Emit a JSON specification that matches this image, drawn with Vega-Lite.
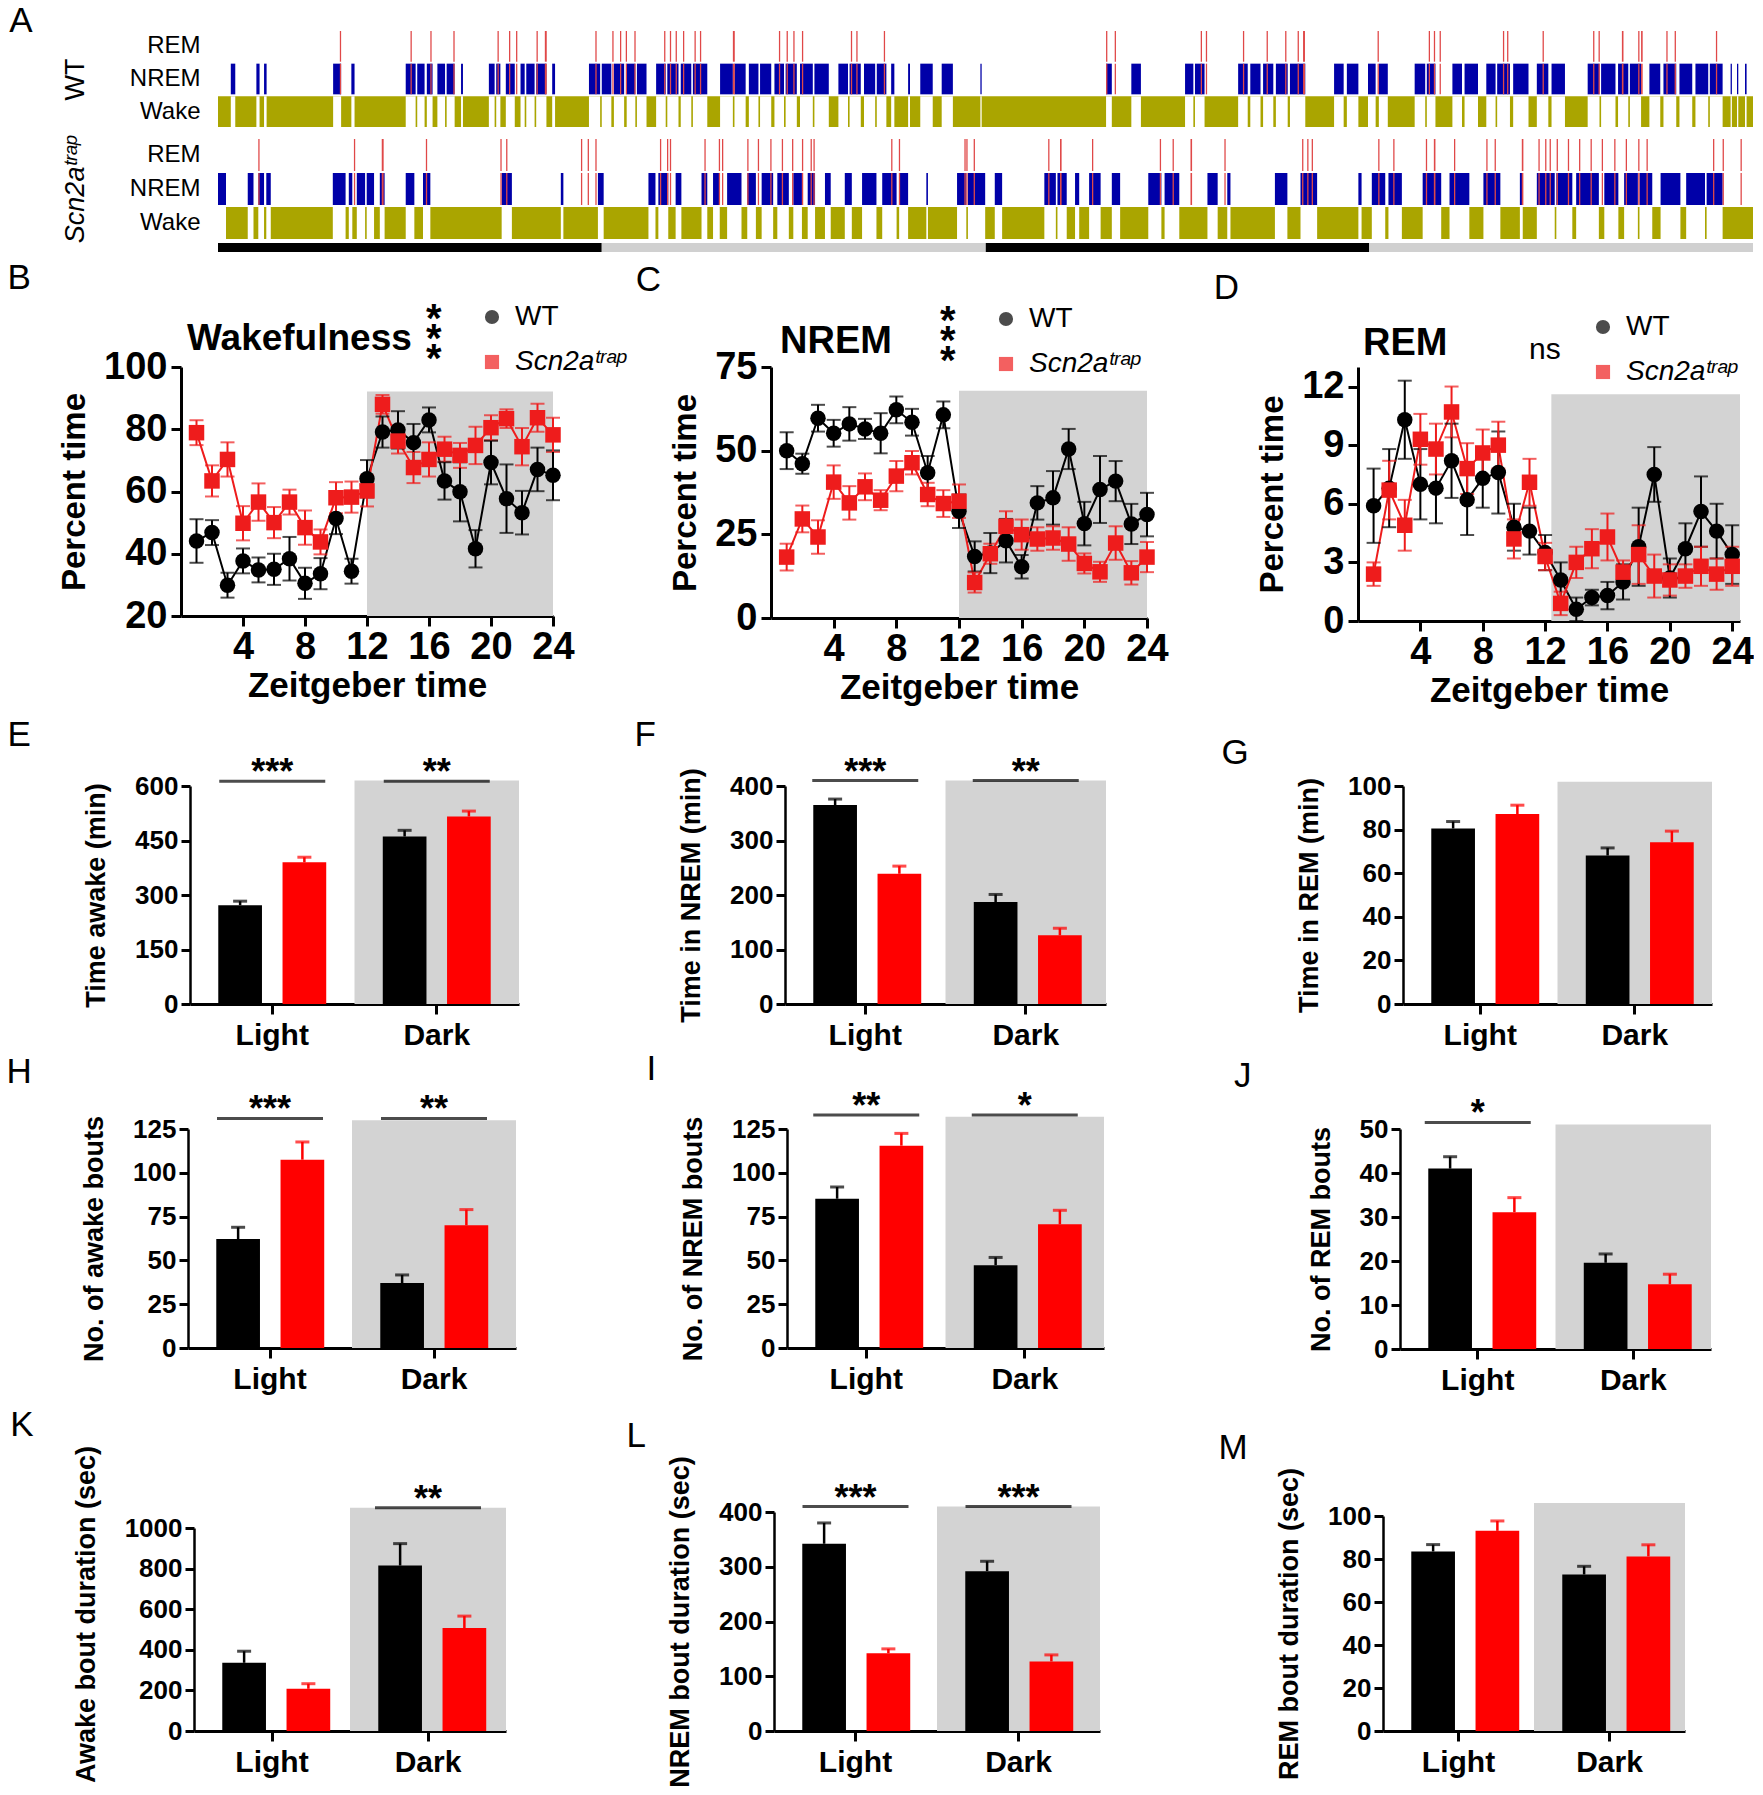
{
"$schema":"https://vega.github.io/schema/vega-lite/v6.json",
"background":"white",
"padding":{"left":6,"top":4,"right":0,"bottom":0},
"config":{
 "font":"Liberation Sans",
 "view":{"stroke":null},
 "axis":{"domainColor":"#000","domainWidth":3,"tickColor":"#000","tickWidth":3,"tickSize":9,"labelColor":"#000","labelFontWeight":"bold","titleColor":"#000","titleFontWeight":"bold","grid":false,"labelOverlap":false,"labelFlush":false},
 "title":{"color":"#000"},
 "legend":{"labelColor":"#000","titleColor":"#000"}
},
"datasets":{
 "record":[{"g":"WT","s":0,"e":48},{"g":"Scn2a","s":0,"e":48}],
 "ld":[{"s":0,"e":12,"ph":"Dark"},{"s":12,"e":24,"ph":"Light"},{"s":24,"e":36,"ph":"Dark"},{"s":36,"e":48,"ph":"Light"}],
 "nrem":[
{"g":"WT","s":0.4,"e":0.54},{"g":"WT","s":1.2,"e":1.3},{"g":"WT","s":1.44,"e":1.52},{"g":"WT","s":3.6,"e":3.85},{"g":"WT","s":4.17,"e":4.27},{"g":"WT","s":5.87,"e":6.18},{"g":"WT","s":6.23,"e":6.46},{"g":"WT","s":6.53,"e":6.71},{"g":"WT","s":6.86,"e":7.1},{"g":"WT","s":7.15,"e":7.4},{"g":"WT","s":7.6,"e":7.66},{"g":"WT","s":8.47,"e":8.65},{"g":"WT","s":8.7,"e":8.83},{"g":"WT","s":9.0,"e":9.28},{"g":"WT","s":9.46,"e":9.59},{"g":"WT","s":9.64,"e":9.9},{"g":"WT","s":9.95,"e":10.27},{"g":"WT","s":10.45,"e":10.54},{"g":"WT","s":11.6,"e":11.95},{"g":"WT","s":12.0,"e":12.3},{"g":"WT","s":12.38,"e":12.7},{"g":"WT","s":12.78,"e":13.05},{"g":"WT","s":13.1,"e":13.4},{"g":"WT","s":13.7,"e":14.0},{"g":"WT","s":14.05,"e":14.4},{"g":"WT","s":14.47,"e":14.8},{"g":"WT","s":14.85,"e":15.3},{"g":"WT","s":15.7,"e":16.1},{"g":"WT","s":16.15,"e":16.5},{"g":"WT","s":16.6,"e":16.9},{"g":"WT","s":16.95,"e":17.3},{"g":"WT","s":17.4,"e":17.7},{"g":"WT","s":17.75,"e":18.1},{"g":"WT","s":18.2,"e":18.6},{"g":"WT","s":18.65,"e":19.1},{"g":"WT","s":19.4,"e":19.7},{"g":"WT","s":19.75,"e":20.1},{"g":"WT","s":20.2,"e":20.55},{"g":"WT","s":20.6,"e":20.9},{"g":"WT","s":21.05,"e":21.15},{"g":"WT","s":21.58,"e":21.64},{"g":"WT","s":21.96,"e":22.35},{"g":"WT","s":22.63,"e":22.98},{"g":"WT","s":23.84,"e":23.88},{"g":"WT","s":27.77,"e":27.95},{"g":"WT","s":28.56,"e":28.86},{"g":"WT","s":30.24,"e":30.5},{"g":"WT","s":30.55,"e":30.85},{"g":"WT","s":31.9,"e":32.2},{"g":"WT","s":32.28,"e":32.6},{"g":"WT","s":32.68,"e":33.0},{"g":"WT","s":33.08,"e":33.45},{"g":"WT","s":33.52,"e":34.0},{"g":"WT","s":34.9,"e":35.2},{"g":"WT","s":35.3,"e":35.66},{"g":"WT","s":35.96,"e":36.2},{"g":"WT","s":36.3,"e":36.58},{"g":"WT","s":37.42,"e":37.75},{"g":"WT","s":37.8,"e":38.07},{"g":"WT","s":38.6,"e":38.9},{"g":"WT","s":38.98,"e":39.4},{"g":"WT","s":39.66,"e":39.95},{"g":"WT","s":40.0,"e":40.4},{"g":"WT","s":40.5,"e":40.98},{"g":"WT","s":41.24,"e":41.6},{"g":"WT","s":41.7,"e":42.12},{"g":"WT","s":42.83,"e":43.2},{"g":"WT","s":43.25,"e":43.7},{"g":"WT","s":43.78,"e":44.1},{"g":"WT","s":44.15,"e":44.5},{"g":"WT","s":44.76,"e":45.1},{"g":"WT","s":45.2,"e":45.6},{"g":"WT","s":45.7,"e":46.1},{"g":"WT","s":46.2,"e":46.6},{"g":"WT","s":46.65,"e":47.05},{"g":"WT","s":47.3,"e":47.34},{"g":"WT","s":47.5,"e":47.54},{"g":"WT","s":47.75,"e":47.8},
{"g":"Scn2a","s":0.0,"e":0.25},{"g":"Scn2a","s":0.93,"e":1.11},{"g":"Scn2a","s":1.26,"e":1.44},{"g":"Scn2a","s":1.51,"e":1.65},{"g":"Scn2a","s":3.59,"e":3.99},{"g":"Scn2a","s":4.09,"e":4.2},{"g":"Scn2a","s":4.34,"e":4.6},{"g":"Scn2a","s":4.65,"e":4.88},{"g":"Scn2a","s":5.06,"e":5.21},{"g":"Scn2a","s":5.87,"e":6.14},{"g":"Scn2a","s":6.41,"e":6.64},{"g":"Scn2a","s":8.87,"e":9.19},{"g":"Scn2a","s":10.72,"e":10.8},{"g":"Scn2a","s":11.88,"e":12.06},{"g":"Scn2a","s":13.46,"e":13.68},{"g":"Scn2a","s":13.77,"e":14.08},{"g":"Scn2a","s":14.31,"e":14.49},{"g":"Scn2a","s":15.12,"e":15.3},{"g":"Scn2a","s":15.48,"e":15.69},{"g":"Scn2a","s":15.92,"e":16.37},{"g":"Scn2a","s":16.55,"e":16.82},{"g":"Scn2a","s":17.0,"e":17.36},{"g":"Scn2a","s":17.49,"e":17.85},{"g":"Scn2a","s":17.99,"e":18.26},{"g":"Scn2a","s":18.44,"e":18.67},{"g":"Scn2a","s":18.98,"e":19.16},{"g":"Scn2a","s":19.6,"e":19.82},{"g":"Scn2a","s":20.14,"e":20.59},{"g":"Scn2a","s":20.77,"e":21.22},{"g":"Scn2a","s":21.3,"e":21.58},{"g":"Scn2a","s":22.15,"e":22.2},{"g":"Scn2a","s":23.11,"e":23.4},{"g":"Scn2a","s":23.45,"e":23.99},{"g":"Scn2a","s":24.29,"e":24.52},{"g":"Scn2a","s":25.84,"e":26.2},{"g":"Scn2a","s":26.25,"e":26.54},{"g":"Scn2a","s":26.8,"e":26.93},{"g":"Scn2a","s":27.24,"e":27.6},{"g":"Scn2a","s":27.95,"e":28.21},{"g":"Scn2a","s":29.09,"e":29.5},{"g":"Scn2a","s":29.6,"e":30.06},{"g":"Scn2a","s":30.94,"e":31.26},{"g":"Scn2a","s":31.56,"e":31.66},{"g":"Scn2a","s":33.05,"e":33.44},{"g":"Scn2a","s":33.85,"e":34.37},{"g":"Scn2a","s":35.66,"e":35.76},{"g":"Scn2a","s":36.08,"e":36.5},{"g":"Scn2a","s":36.6,"e":37.02},{"g":"Scn2a","s":37.67,"e":38.25},{"g":"Scn2a","s":38.51,"e":39.13},{"g":"Scn2a","s":39.57,"e":40.1},{"g":"Scn2a","s":40.71,"e":40.8},{"g":"Scn2a","s":41.24,"e":41.8},{"g":"Scn2a","s":41.85,"e":42.35},{"g":"Scn2a","s":42.47,"e":43.18},{"g":"Scn2a","s":43.35,"e":43.79},{"g":"Scn2a","s":43.97,"e":44.4},{"g":"Scn2a","s":44.45,"e":44.85},{"g":"Scn2a","s":45.11,"e":45.73},{"g":"Scn2a","s":45.91,"e":46.5},{"g":"Scn2a","s":46.55,"e":47.05}
 ],
 "rem":[
{"g":"WT","s":3.81,"e":3.85},{"g":"WT","s":6.02,"e":6.06},{"g":"WT","s":6.64,"e":6.68},{"g":"WT","s":7.36,"e":7.4},{"g":"WT","s":8.74,"e":8.78},{"g":"WT","s":9.1,"e":9.14},{"g":"WT","s":9.32,"e":9.36},{"g":"WT","s":9.96,"e":10.0},{"g":"WT","s":10.22,"e":10.28},{"g":"WT","s":11.8,"e":11.84},{"g":"WT","s":12.33,"e":12.37},{"g":"WT","s":12.57,"e":12.61},{"g":"WT","s":12.75,"e":12.79},{"g":"WT","s":13.02,"e":13.06},{"g":"WT","s":13.95,"e":13.99},{"g":"WT","s":14.13,"e":14.17},{"g":"WT","s":14.31,"e":14.35},{"g":"WT","s":14.54,"e":14.58},{"g":"WT","s":14.9,"e":14.94},{"g":"WT","s":15.07,"e":15.11},{"g":"WT","s":16.1,"e":16.16},{"g":"WT","s":17.54,"e":17.58},{"g":"WT","s":17.78,"e":17.82},{"g":"WT","s":17.99,"e":18.03},{"g":"WT","s":18.26,"e":18.3},{"g":"WT","s":19.79,"e":19.83},{"g":"WT","s":19.96,"e":20.0},{"g":"WT","s":20.82,"e":20.86},{"g":"WT","s":27.77,"e":27.81},{"g":"WT","s":28.04,"e":28.08},{"g":"WT","s":30.73,"e":30.77},{"g":"WT","s":30.89,"e":30.93},{"g":"WT","s":32.05,"e":32.09},{"g":"WT","s":32.79,"e":32.83},{"g":"WT","s":33.37,"e":33.41},{"g":"WT","s":33.76,"e":33.8},{"g":"WT","s":33.93,"e":33.99},{"g":"WT","s":36.26,"e":36.3},{"g":"WT","s":37.86,"e":37.9},{"g":"WT","s":38.02,"e":38.06},{"g":"WT","s":38.2,"e":38.24},{"g":"WT","s":40.18,"e":40.22},{"g":"WT","s":40.31,"e":40.35},{"g":"WT","s":41.42,"e":41.46},{"g":"WT","s":43.0,"e":43.04},{"g":"WT","s":43.17,"e":43.21},{"g":"WT","s":43.9,"e":43.95},{"g":"WT","s":44.41,"e":44.45},{"g":"WT","s":44.5,"e":44.55},{"g":"WT","s":45.29,"e":45.33},{"g":"WT","s":45.55,"e":45.59},{"g":"WT","s":46.84,"e":46.88},
{"g":"Scn2a","s":1.26,"e":1.3},{"g":"Scn2a","s":4.25,"e":4.29},{"g":"Scn2a","s":5.12,"e":5.18},{"g":"Scn2a","s":6.5,"e":6.54},{"g":"Scn2a","s":8.83,"e":8.87},{"g":"Scn2a","s":9.01,"e":9.05},{"g":"Scn2a","s":11.35,"e":11.39},{"g":"Scn2a","s":11.56,"e":11.6},{"g":"Scn2a","s":11.8,"e":11.84},{"g":"Scn2a","s":13.82,"e":13.86},{"g":"Scn2a","s":14.04,"e":14.08},{"g":"Scn2a","s":14.13,"e":14.17},{"g":"Scn2a","s":15.21,"e":15.25},{"g":"Scn2a","s":15.66,"e":15.7},{"g":"Scn2a","s":15.76,"e":15.8},{"g":"Scn2a","s":16.55,"e":16.59},{"g":"Scn2a","s":16.88,"e":16.92},{"g":"Scn2a","s":17.27,"e":17.31},{"g":"Scn2a","s":17.63,"e":17.67},{"g":"Scn2a","s":17.95,"e":17.99},{"g":"Scn2a","s":18.26,"e":18.3},{"g":"Scn2a","s":18.53,"e":18.57},{"g":"Scn2a","s":18.62,"e":18.66},{"g":"Scn2a","s":21.05,"e":21.09},{"g":"Scn2a","s":21.29,"e":21.33},{"g":"Scn2a","s":23.34,"e":23.38},{"g":"Scn2a","s":23.4,"e":23.44},{"g":"Scn2a","s":23.63,"e":23.67},{"g":"Scn2a","s":25.96,"e":26.0},{"g":"Scn2a","s":26.33,"e":26.38},{"g":"Scn2a","s":27.33,"e":27.37},{"g":"Scn2a","s":29.45,"e":29.49},{"g":"Scn2a","s":29.85,"e":29.89},{"g":"Scn2a","s":30.41,"e":30.46},{"g":"Scn2a","s":31.47,"e":31.51},{"g":"Scn2a","s":33.9,"e":33.94},{"g":"Scn2a","s":34.06,"e":34.1},{"g":"Scn2a","s":34.2,"e":34.24},{"g":"Scn2a","s":36.28,"e":36.32},{"g":"Scn2a","s":36.75,"e":36.79},{"g":"Scn2a","s":37.77,"e":37.81},{"g":"Scn2a","s":38.02,"e":38.07},{"g":"Scn2a","s":38.65,"e":38.69},{"g":"Scn2a","s":39.66,"e":39.7},{"g":"Scn2a","s":39.92,"e":39.96},{"g":"Scn2a","s":40.77,"e":40.82},{"g":"Scn2a","s":41.29,"e":41.33},{"g":"Scn2a","s":41.5,"e":41.54},{"g":"Scn2a","s":41.64,"e":41.68},{"g":"Scn2a","s":41.86,"e":41.9},{"g":"Scn2a","s":42.21,"e":42.25},{"g":"Scn2a","s":42.56,"e":42.6},{"g":"Scn2a","s":42.92,"e":42.96},{"g":"Scn2a","s":43.27,"e":43.31},{"g":"Scn2a","s":43.66,"e":43.7},{"g":"Scn2a","s":44.02,"e":44.06},{"g":"Scn2a","s":44.41,"e":44.45},{"g":"Scn2a","s":44.67,"e":44.71},{"g":"Scn2a","s":46.75,"e":46.79},{"g":"Scn2a","s":47.05,"e":47.09},{"g":"Scn2a","s":47.61,"e":47.65}
 ],
 "shadeLine":[{"p":"B","x0":12,"x1":24,"y0":20,"y1":92.1},{"p":"C","x0":12,"x1":24,"y0":0,"y1":67.9},{"p":"D","x0":12.4,"x1":24.5,"y0":0,"y1":11.6}],
 "lines":[
{"p":"B","g":"WT","t":1,"m":44.1,"s":7},{"p":"B","g":"WT","t":2,"m":46.8,"s":4},{"p":"B","g":"WT","t":3,"m":29.9,"s":4},{"p":"B","g":"WT","t":4,"m":37.7,"s":4},{"p":"B","g":"WT","t":5,"m":34.8,"s":4},{"p":"B","g":"WT","t":6,"m":35.0,"s":5},{"p":"B","g":"WT","t":7,"m":38.4,"s":7},{"p":"B","g":"WT","t":8,"m":30.5,"s":5},{"p":"B","g":"WT","t":9,"m":33.6,"s":5},{"p":"B","g":"WT","t":10,"m":51.3,"s":5},{"p":"B","g":"WT","t":11,"m":34.4,"s":4},{"p":"B","g":"WT","t":12,"m":64.1,"s":6},{"p":"B","g":"WT","t":13,"m":79.1,"s":5},{"p":"B","g":"WT","t":14,"m":79.8,"s":6},{"p":"B","g":"WT","t":15,"m":75.7,"s":6},{"p":"B","g":"WT","t":16,"m":83.0,"s":4},{"p":"B","g":"WT","t":17,"m":63.4,"s":6},{"p":"B","g":"WT","t":18,"m":59.9,"s":9.5},{"p":"B","g":"WT","t":19,"m":41.6,"s":6},{"p":"B","g":"WT","t":20,"m":69.3,"s":7},{"p":"B","g":"WT","t":21,"m":57.7,"s":11},{"p":"B","g":"WT","t":22,"m":53.2,"s":7},{"p":"B","g":"WT","t":23,"m":67.1,"s":7},{"p":"B","g":"WT","t":24,"m":65.2,"s":8},
{"p":"B","g":"Scn2a","t":1,"m":78.9,"s":4},{"p":"B","g":"Scn2a","t":2,"m":63.4,"s":5},{"p":"B","g":"Scn2a","t":3,"m":70.3,"s":5.5},{"p":"B","g":"Scn2a","t":4,"m":49.8,"s":5.5},{"p":"B","g":"Scn2a","t":5,"m":56.6,"s":6},{"p":"B","g":"Scn2a","t":6,"m":50.0,"s":5},{"p":"B","g":"Scn2a","t":7,"m":56.6,"s":4},{"p":"B","g":"Scn2a","t":8,"m":48.4,"s":5.5},{"p":"B","g":"Scn2a","t":9,"m":43.8,"s":4},{"p":"B","g":"Scn2a","t":10,"m":58.0,"s":5},{"p":"B","g":"Scn2a","t":11,"m":58.2,"s":5},{"p":"B","g":"Scn2a","t":12,"m":60.2,"s":5},{"p":"B","g":"Scn2a","t":13,"m":88.0,"s":3},{"p":"B","g":"Scn2a","t":14,"m":76.2,"s":4},{"p":"B","g":"Scn2a","t":15,"m":67.7,"s":5},{"p":"B","g":"Scn2a","t":16,"m":70.3,"s":5.5},{"p":"B","g":"Scn2a","t":17,"m":73.6,"s":4},{"p":"B","g":"Scn2a","t":18,"m":71.6,"s":4},{"p":"B","g":"Scn2a","t":19,"m":74.8,"s":6},{"p":"B","g":"Scn2a","t":20,"m":80.5,"s":4},{"p":"B","g":"Scn2a","t":21,"m":83.4,"s":3},{"p":"B","g":"Scn2a","t":22,"m":74.4,"s":6},{"p":"B","g":"Scn2a","t":23,"m":83.7,"s":4.5},{"p":"B","g":"Scn2a","t":24,"m":78.2,"s":5.5},
{"p":"C","g":"WT","t":1,"m":50.0,"s":5.5},{"p":"C","g":"WT","t":2,"m":46.1,"s":3},{"p":"C","g":"WT","t":3,"m":59.7,"s":4},{"p":"C","g":"WT","t":4,"m":55.2,"s":4},{"p":"C","g":"WT","t":5,"m":58.0,"s":5},{"p":"C","g":"WT","t":6,"m":56.5,"s":3},{"p":"C","g":"WT","t":7,"m":55.2,"s":6},{"p":"C","g":"WT","t":8,"m":62.2,"s":4},{"p":"C","g":"WT","t":9,"m":58.5,"s":4},{"p":"C","g":"WT","t":10,"m":43.4,"s":5},{"p":"C","g":"WT","t":11,"m":60.7,"s":4},{"p":"C","g":"WT","t":12,"m":31.9,"s":5},{"p":"C","g":"WT","t":13,"m":18.4,"s":4.5},{"p":"C","g":"WT","t":14,"m":19.4,"s":6},{"p":"C","g":"WT","t":15,"m":23.1,"s":6.5},{"p":"C","g":"WT","t":16,"m":15.3,"s":3.5},{"p":"C","g":"WT","t":17,"m":34.4,"s":5},{"p":"C","g":"WT","t":18,"m":35.9,"s":8},{"p":"C","g":"WT","t":19,"m":50.5,"s":6},{"p":"C","g":"WT","t":20,"m":28.2,"s":6.5},{"p":"C","g":"WT","t":21,"m":38.4,"s":10},{"p":"C","g":"WT","t":22,"m":40.9,"s":6},{"p":"C","g":"WT","t":23,"m":28.1,"s":6},{"p":"C","g":"WT","t":24,"m":30.9,"s":6.5},
{"p":"C","g":"Scn2a","t":1,"m":18.2,"s":4},{"p":"C","g":"Scn2a","t":2,"m":29.6,"s":4},{"p":"C","g":"Scn2a","t":3,"m":24.2,"s":5},{"p":"C","g":"Scn2a","t":4,"m":40.6,"s":5},{"p":"C","g":"Scn2a","t":5,"m":34.4,"s":5},{"p":"C","g":"Scn2a","t":6,"m":39.2,"s":4},{"p":"C","g":"Scn2a","t":7,"m":35.2,"s":3},{"p":"C","g":"Scn2a","t":8,"m":42.4,"s":4.5},{"p":"C","g":"Scn2a","t":9,"m":46.4,"s":3.5},{"p":"C","g":"Scn2a","t":10,"m":36.9,"s":3.5},{"p":"C","g":"Scn2a","t":11,"m":34.2,"s":4},{"p":"C","g":"Scn2a","t":12,"m":34.9,"s":5},{"p":"C","g":"Scn2a","t":13,"m":10.6,"s":3},{"p":"C","g":"Scn2a","t":14,"m":19.2,"s":3},{"p":"C","g":"Scn2a","t":15,"m":27.4,"s":4.5},{"p":"C","g":"Scn2a","t":16,"m":24.9,"s":4.5},{"p":"C","g":"Scn2a","t":17,"m":23.6,"s":3.5},{"p":"C","g":"Scn2a","t":18,"m":23.9,"s":3.5},{"p":"C","g":"Scn2a","t":19,"m":22.1,"s":5},{"p":"C","g":"Scn2a","t":20,"m":16.3,"s":3},{"p":"C","g":"Scn2a","t":21,"m":13.8,"s":3},{"p":"C","g":"Scn2a","t":22,"m":22.4,"s":5},{"p":"C","g":"Scn2a","t":23,"m":13.5,"s":3.5},{"p":"C","g":"Scn2a","t":24,"m":18.2,"s":4.5},
{"p":"D","g":"WT","t":1,"m":5.9,"s":1.9},{"p":"D","g":"WT","t":2,"m":6.8,"s":2.0},{"p":"D","g":"WT","t":3,"m":10.3,"s":2.0},{"p":"D","g":"WT","t":4,"m":7.0,"s":1.8},{"p":"D","g":"WT","t":5,"m":6.8,"s":1.8},{"p":"D","g":"WT","t":6,"m":8.2,"s":1.9},{"p":"D","g":"WT","t":7,"m":6.2,"s":1.8},{"p":"D","g":"WT","t":8,"m":7.3,"s":1.5},{"p":"D","g":"WT","t":9,"m":7.6,"s":2.1},{"p":"D","g":"WT","t":10,"m":4.8,"s":1.2},{"p":"D","g":"WT","t":11,"m":4.6,"s":1.2},{"p":"D","g":"WT","t":12,"m":3.5,"s":0.9},{"p":"D","g":"WT","t":13,"m":2.1,"s":0.9},{"p":"D","g":"WT","t":14,"m":0.6,"s":0.6},{"p":"D","g":"WT","t":15,"m":1.2,"s":0.4},{"p":"D","g":"WT","t":16,"m":1.3,"s":0.7},{"p":"D","g":"WT","t":17,"m":2.0,"s":0.9},{"p":"D","g":"WT","t":18,"m":3.8,"s":2.0},{"p":"D","g":"WT","t":19,"m":7.5,"s":1.4},{"p":"D","g":"WT","t":20,"m":2.2,"s":1.0},{"p":"D","g":"WT","t":21,"m":3.7,"s":1.3},{"p":"D","g":"WT","t":22,"m":5.6,"s":1.8},{"p":"D","g":"WT","t":23,"m":4.6,"s":1.4},{"p":"D","g":"WT","t":24,"m":3.4,"s":1.5},
{"p":"D","g":"Scn2a","t":1,"m":2.4,"s":0.6},{"p":"D","g":"Scn2a","t":2,"m":6.7,"s":1.5},{"p":"D","g":"Scn2a","t":3,"m":4.9,"s":1.3},{"p":"D","g":"Scn2a","t":4,"m":9.3,"s":1.3},{"p":"D","g":"Scn2a","t":5,"m":8.8,"s":1.3},{"p":"D","g":"Scn2a","t":6,"m":10.7,"s":1.3},{"p":"D","g":"Scn2a","t":7,"m":7.8,"s":1.3},{"p":"D","g":"Scn2a","t":8,"m":8.6,"s":1.2},{"p":"D","g":"Scn2a","t":9,"m":9.0,"s":1.2},{"p":"D","g":"Scn2a","t":10,"m":4.2,"s":1.0},{"p":"D","g":"Scn2a","t":11,"m":7.1,"s":1.2},{"p":"D","g":"Scn2a","t":12,"m":3.3,"s":0.7},{"p":"D","g":"Scn2a","t":13,"m":0.9,"s":0.6},{"p":"D","g":"Scn2a","t":14,"m":3.0,"s":0.8},{"p":"D","g":"Scn2a","t":15,"m":3.7,"s":1.0},{"p":"D","g":"Scn2a","t":16,"m":4.3,"s":1.2},{"p":"D","g":"Scn2a","t":17,"m":2.5,"s":0.6},{"p":"D","g":"Scn2a","t":18,"m":3.4,"s":1.5},{"p":"D","g":"Scn2a","t":19,"m":2.3,"s":1.1},{"p":"D","g":"Scn2a","t":20,"m":2.1,"s":0.8},{"p":"D","g":"Scn2a","t":21,"m":2.3,"s":0.6},{"p":"D","g":"Scn2a","t":22,"m":2.8,"s":1.0},{"p":"D","g":"Scn2a","t":23,"m":2.4,"s":0.8},{"p":"D","g":"Scn2a","t":24,"m":2.8,"s":1.0}
 ],
 "bars":[
{"p":"E","per":"Light","g":"WT","m":272,"u":283},{"p":"E","per":"Light","g":"Scn2a","m":390,"u":404},{"p":"E","per":"Dark","g":"WT","m":461,"u":478},{"p":"E","per":"Dark","g":"Scn2a","m":516,"u":531},
{"p":"F","per":"Light","g":"WT","m":365,"u":376},{"p":"F","per":"Light","g":"Scn2a","m":239,"u":253},{"p":"F","per":"Dark","g":"WT","m":187,"u":201},{"p":"F","per":"Dark","g":"Scn2a","m":126,"u":139},
{"p":"G","per":"Light","g":"WT","m":80.5,"u":83.7},{"p":"G","per":"Light","g":"Scn2a","m":87.1,"u":91.2},{"p":"G","per":"Dark","g":"WT","m":68.1,"u":71.6},{"p":"G","per":"Dark","g":"Scn2a","m":74.2,"u":79.3},
{"p":"H","per":"Light","g":"WT","m":62.2,"u":68.9},{"p":"H","per":"Light","g":"Scn2a","m":107.5,"u":117.6},{"p":"H","per":"Dark","g":"WT","m":37.1,"u":41.7},{"p":"H","per":"Dark","g":"Scn2a","m":70.0,"u":79.0},
{"p":"I","per":"Light","g":"WT","m":85.2,"u":91.9},{"p":"I","per":"Light","g":"Scn2a","m":115.5,"u":122.5},{"p":"I","per":"Dark","g":"WT","m":47.3,"u":51.7},{"p":"I","per":"Dark","g":"Scn2a","m":70.6,"u":78.6},
{"p":"J","per":"Light","g":"WT","m":41.0,"u":43.7},{"p":"J","per":"Light","g":"Scn2a","m":31.1,"u":34.4},{"p":"J","per":"Dark","g":"WT","m":19.6,"u":21.6},{"p":"J","per":"Dark","g":"Scn2a","m":14.7,"u":17.0},
{"p":"K","per":"Light","g":"WT","m":336,"u":393},{"p":"K","per":"Light","g":"Scn2a","m":208,"u":233},{"p":"K","per":"Dark","g":"WT","m":815,"u":923},{"p":"K","per":"Dark","g":"Scn2a","m":507,"u":566},
{"p":"L","per":"Light","g":"WT","m":342,"u":380},{"p":"L","per":"Light","g":"Scn2a","m":142,"u":150},{"p":"L","per":"Dark","g":"WT","m":292,"u":310},{"p":"L","per":"Dark","g":"Scn2a","m":127,"u":139},
{"p":"M","per":"Light","g":"WT","m":83.5,"u":86.7},{"p":"M","per":"Light","g":"Scn2a","m":93.1,"u":97.7},{"p":"M","per":"Dark","g":"WT","m":72.8,"u":76.6},{"p":"M","per":"Dark","g":"Scn2a","m":81.2,"u":86.6}
 ],
 "shadeBar":[{"p":"E","per":"Dark","top":615},{"p":"F","per":"Dark","top":410},{"p":"G","per":"Dark","top":102},{"p":"H","per":"Dark","top":130},{"p":"I","per":"Dark","top":132},{"p":"J","per":"Dark","top":51},{"p":"K","per":"Dark","top":1100},{"p":"L","per":"Dark","top":410},{"p":"M","per":"Dark","top":106}],
 "sig":[{"p":"E","per":"Light","lv":613,"st":"***"},{"p":"E","per":"Dark","lv":613,"st":"**"},{"p":"F","per":"Light","lv":410,"st":"***"},{"p":"F","per":"Dark","lv":410,"st":"**"},{"p":"H","per":"Light","lv":131,"st":"***"},{"p":"H","per":"Dark","lv":131,"st":"**"},{"p":"I","per":"Light","lv":133,"st":"**"},{"p":"I","per":"Dark","lv":133,"st":"*"},{"p":"J","per":"Light","lv":51.5,"st":"*"},{"p":"K","per":"Dark","lv":1100,"st":"**"},{"p":"L","per":"Light","lv":410,"st":"***"},{"p":"L","per":"Dark","lv":410,"st":"***"}]
},
"resolve":{"scale":{"color":"independent","shape":"independent"}},
"columns":1,
"spacing":1,
"concat":[
 {"columns":1,"spacing":9,
  "resolve":{"scale":{"color":"independent","shape":"independent"}},
  "concat":[
 {"title":{"text":"A","anchor":"start","frame":"bounds","fontSize":35,"fontWeight":"normal","dx":-52,"offset":-8},
  "resolve":{"scale":{"color":"independent","shape":"independent"}},
  "spacing":8,
  "vconcat":[
   {"width":1572,"height":96,
    "layer":[
     {"data":{"name":"record"},"transform":[{"filter":"datum.g=='WT'"}],"mark":{"type":"bar","color":"#aaa500"},
      "encoding":{"x":{"field":"s","type":"quantitative","scale":{"domain":[0,48],"nice":false,"zero":false,"range":[37,1572]},"axis":null},"x2":{"field":"e"},
       "y":{"datum":"Wake","type":"nominal","scale":{"domain":["REM","NREM","Wake"],"paddingInner":0.06,"paddingOuter":0},"axis":{"title":"WT","offset":-37,"titleFontSize":27,"titleFontWeight":"normal","titlePadding":40,"labelFontSize":24,"labelFontWeight":"normal","labelPadding":18,"domain":false,"ticks":false}}}},
     {"data":{"name":"nrem"},"transform":[{"filter":"datum.g=='WT'"}],"mark":{"type":"bar","color":"#ffffff"},"encoding":{"x":{"field":"s","type":"quantitative"},"x2":{"field":"e"},"y":{"datum":"Wake","type":"nominal"}}},
     {"data":{"name":"nrem"},"transform":[{"filter":"datum.g=='WT'"}],"mark":{"type":"bar","color":"#0000a8"},"encoding":{"x":{"field":"s","type":"quantitative"},"x2":{"field":"e"},"y":{"datum":"NREM","type":"nominal"}}},
     {"data":{"name":"rem"},"transform":[{"filter":"datum.g=='WT'"}],"mark":{"type":"bar","color":"#e04848"},"encoding":{"x":{"field":"s","type":"quantitative"},"x2":{"field":"e"},"y":{"datum":"REM","type":"nominal"}}},
     {"data":{"name":"rem"},"transform":[{"filter":"datum.g=='WT'"}],"mark":{"type":"bar","color":"#e04848"},"encoding":{"x":{"field":"s","type":"quantitative"},"x2":{"field":"e"},"y":{"datum":"NREM","type":"nominal"}}}
    ]},
   {"spacing":0,
    "resolve":{"scale":{"color":"independent","shape":"independent"}},
    "vconcat":[
     {"width":1572,"height":100,
      "layer":[
       {"data":{"name":"record"},"transform":[{"filter":"datum.g=='Scn2a'"}],"mark":{"type":"bar","color":"#aaa500"},
        "encoding":{"x":{"field":"s","type":"quantitative","scale":{"domain":[0,48],"nice":false,"zero":false,"range":[37,1572]},"axis":null},"x2":{"field":"e"},
         "y":{"datum":"Wake","type":"nominal","scale":{"domain":["REM","NREM","Wake"],"paddingInner":0.06,"paddingOuter":0},"axis":{"title":"Scn2aᵗʳᵃᵖ","offset":-37,"titleFontSize":27,"titleFontWeight":"normal","titleFontStyle":"italic","titlePadding":40,"labelFontSize":24,"labelFontWeight":"normal","labelPadding":18,"domain":false,"ticks":false}}}},
       {"data":{"name":"nrem"},"transform":[{"filter":"datum.g=='Scn2a'"}],"mark":{"type":"bar","color":"#ffffff"},"encoding":{"x":{"field":"s","type":"quantitative"},"x2":{"field":"e"},"y":{"datum":"Wake","type":"nominal"}}},
       {"data":{"name":"nrem"},"transform":[{"filter":"datum.g=='Scn2a'"}],"mark":{"type":"bar","color":"#0000a8"},"encoding":{"x":{"field":"s","type":"quantitative"},"x2":{"field":"e"},"y":{"datum":"NREM","type":"nominal"}}},
       {"data":{"name":"rem"},"transform":[{"filter":"datum.g=='Scn2a'"}],"mark":{"type":"bar","color":"#e04848"},"encoding":{"x":{"field":"s","type":"quantitative"},"x2":{"field":"e"},"y":{"datum":"REM","type":"nominal"}}},
       {"data":{"name":"rem"},"transform":[{"filter":"datum.g=='Scn2a'"}],"mark":{"type":"bar","color":"#e04848"},"encoding":{"x":{"field":"s","type":"quantitative"},"x2":{"field":"e"},"y":{"datum":"NREM","type":"nominal"}}}
      ]},
     {"width":1572,"height":9,"data":{"name":"ld"},
      "layer":[
       {"transform":[{"filter":"datum.ph=='Dark'"}],"mark":{"type":"bar","color":"#000000"},
        "encoding":{"x":{"field":"s","type":"quantitative","scale":{"domain":[0,48],"nice":false,"zero":false,"range":[37,1572]},"axis":null},"x2":{"field":"e"},"y":{"datum":"LD","type":"nominal","axis":null,"scale":{"paddingInner":0,"paddingOuter":0}}}},
       {"transform":[{"filter":"datum.ph=='Light'"}],"mark":{"type":"bar","color":"#d0d0d0"},
        "encoding":{"x":{"field":"s","type":"quantitative"},"x2":{"field":"e"},"y":{"datum":"LD","type":"nominal"}}}
      ]}
    ]}
  ]},
 {"resolve":{"scale":{"color":"independent","shape":"independent"}},
  "spacing":44,
  "hconcat":[
   {"resolve":{"scale":{"color":"independent","shape":"independent"}},
    "spacing":8,
    "hconcat":[
     {"title":{"text":"B","anchor":"start","frame":"bounds","fontSize":35,"fontWeight":"normal","dx":-51,"offset":7},
      "vconcat":[{
       "width":372,"height":249,
       "title":{"text":"Wakefulness","anchor":"start","frame":"group","fontSize":37,"fontWeight":"bold","dx":6,"offset":-10},
       "layer":[
        {"data":{"name":"shadeLine"},"transform":[{"filter":"datum.p=='B'"}],"mark":{"type":"rect","color":"#d3d3d3"},
         "encoding":{"x":{"field":"x0","type":"quantitative","title":"Zeitgeber time","scale":{"domain":[0,24],"nice":false,"zero":false},"axis":{"values":[4,8,12,16,20,24],"labelFontSize":38,"titleFontSize":35,"labelPadding":2,"titlePadding":2,"tickSize":10}},"x2":{"field":"x1"},
          "y":{"field":"y0","type":"quantitative","title":"Percent time","scale":{"domain":[20,100],"nice":false,"zero":false},"axis":{"values":[20,40,60,80,100],"labelFontSize":38,"titleFontSize":33,"labelPadding":4,"titlePadding":12,"tickSize":10}},"y2":{"field":"y1"}}},
        {"data":{"name":"lines"},"transform":[{"filter":"datum.p=='B'"}],"mark":{"type":"line","strokeWidth":2},
         "encoding":{"x":{"field":"t","type":"quantitative","title":"Zeitgeber time"},"y":{"field":"m","type":"quantitative","title":"Percent time"},"color":{"field":"g","type":"nominal","scale":{"domain":["WT","Scn2a"],"range":["#000000","#ee1c1c"]},"legend":{"orient":"none","legendX":245,"legendY":-64,"title":["*","*","*"],"titleLineHeight":20,"titleOrient":"left","titleAnchor":"middle","titleFontSize":40,"titleFontWeight":"bold","titlePadding":36,"labelFontSize":28,"labelFontWeight":"normal","symbolSize":200,"symbolStrokeWidth":0,"rowPadding":17,"labelOffset":9,"labelExpr":"datum.value == 'WT' ? 'WT' : 'Scn2aᵗʳᵃᵖ'","labelFontStyle":{"expr":"datum.value == 'WT' ? 'normal' : 'italic'"}}}}},
        {"data":{"name":"lines"},"transform":[{"filter":"datum.p=='B'"}],"mark":{"type":"errorbar","ticks":{"size":14},"thickness":2},
         "encoding":{"x":{"field":"t","type":"quantitative","title":"Zeitgeber time"},"y":{"field":"m","type":"quantitative","title":"Percent time"},"yError":{"field":"s"},"color":{"field":"g","type":"nominal","legend":{"orient":"none","legendX":245,"legendY":-64,"title":["*","*","*"],"titleLineHeight":20,"titleOrient":"left","titleAnchor":"middle","titleFontSize":40,"titleFontWeight":"bold","titlePadding":36,"labelFontSize":28,"labelFontWeight":"normal","symbolSize":200,"symbolStrokeWidth":0,"rowPadding":17,"labelOffset":9,"labelExpr":"datum.value == 'WT' ? 'WT' : 'Scn2aᵗʳᵃᵖ'","labelFontStyle":{"expr":"datum.value == 'WT' ? 'normal' : 'italic'"}}}}},
        {"data":{"name":"lines"},"transform":[{"filter":"datum.p=='B'"}],"mark":{"type":"point","filled":true,"size":240,"opacity":1},
         "encoding":{"x":{"field":"t","type":"quantitative","title":"Zeitgeber time"},"y":{"field":"m","type":"quantitative","title":"Percent time"},
          "color":{"field":"g","type":"nominal","legend":{"orient":"none","legendX":245,"legendY":-64,"title":["*","*","*"],"titleLineHeight":20,"titleOrient":"left","titleAnchor":"middle","titleFontSize":40,"titleFontWeight":"bold","titlePadding":36,"labelFontSize":28,"labelFontWeight":"normal","symbolSize":200,"symbolStrokeWidth":0,"rowPadding":17,"labelOffset":9,"labelExpr":"datum.value == 'WT' ? 'WT' : 'Scn2aᵗʳᵃᵖ'","labelFontStyle":{"expr":"datum.value == 'WT' ? 'normal' : 'italic'"}}},
          "shape":{"field":"g","type":"nominal","scale":{"domain":["WT","Scn2a"],"range":["circle","square"]},"legend":{"orient":"none","legendX":245,"legendY":-64,"title":["*","*","*"],"titleLineHeight":20,"titleOrient":"left","titleAnchor":"middle","titleFontSize":40,"titleFontWeight":"bold","titlePadding":36,"labelFontSize":28,"labelFontWeight":"normal","symbolSize":200,"symbolStrokeWidth":0,"rowPadding":17,"labelOffset":9,"labelExpr":"datum.value == 'WT' ? 'WT' : 'Scn2aᵗʳᵃᵖ'","labelFontStyle":{"expr":"datum.value == 'WT' ? 'normal' : 'italic'"}}}}}
       ]}]},
     {"title":{"text":"C","anchor":"start","frame":"bounds","fontSize":35,"fontWeight":"normal","dx":-34,"offset":7},
      "vconcat":[{
       "width":376,"height":251,
       "title":{"text":"NREM","anchor":"start","frame":"group","fontSize":38,"fontWeight":"bold","dx":9,"offset":-13},
       "layer":[
        {"data":{"name":"shadeLine"},"transform":[{"filter":"datum.p=='C'"}],"mark":{"type":"rect","color":"#d3d3d3"},
         "encoding":{"x":{"field":"x0","type":"quantitative","title":"Zeitgeber time","scale":{"domain":[0,24],"nice":false,"zero":false},"axis":{"values":[4,8,12,16,20,24],"labelFontSize":38,"titleFontSize":35,"labelPadding":2,"titlePadding":2,"tickSize":10}},"x2":{"field":"x1"},
          "y":{"field":"y0","type":"quantitative","title":"Percent time","scale":{"domain":[0,75],"nice":false,"zero":false},"axis":{"values":[0,25,50,75],"labelFontSize":38,"titleFontSize":33,"labelPadding":4,"titlePadding":12,"tickSize":10}},"y2":{"field":"y1"}}},
        {"data":{"name":"lines"},"transform":[{"filter":"datum.p=='C'"}],"mark":{"type":"line","strokeWidth":2},
         "encoding":{"x":{"field":"t","type":"quantitative","title":"Zeitgeber time"},"y":{"field":"m","type":"quantitative","title":"Percent time"},"color":{"field":"g","type":"nominal","scale":{"domain":["WT","Scn2a"],"range":["#000000","#ee1c1c"]},"legend":{"orient":"none","legendX":169,"legendY":-62,"title":["*","*","*"],"titleLineHeight":20,"titleOrient":"left","titleAnchor":"middle","titleFontSize":40,"titleFontWeight":"bold","titlePadding":36,"labelFontSize":28,"labelFontWeight":"normal","symbolSize":200,"symbolStrokeWidth":0,"rowPadding":17,"labelOffset":9,"labelExpr":"datum.value == 'WT' ? 'WT' : 'Scn2aᵗʳᵃᵖ'","labelFontStyle":{"expr":"datum.value == 'WT' ? 'normal' : 'italic'"}}}}},
        {"data":{"name":"lines"},"transform":[{"filter":"datum.p=='C'"}],"mark":{"type":"errorbar","ticks":{"size":14},"thickness":2},
         "encoding":{"x":{"field":"t","type":"quantitative","title":"Zeitgeber time"},"y":{"field":"m","type":"quantitative","title":"Percent time"},"yError":{"field":"s"},"color":{"field":"g","type":"nominal","legend":{"orient":"none","legendX":169,"legendY":-62,"title":["*","*","*"],"titleLineHeight":20,"titleOrient":"left","titleAnchor":"middle","titleFontSize":40,"titleFontWeight":"bold","titlePadding":36,"labelFontSize":28,"labelFontWeight":"normal","symbolSize":200,"symbolStrokeWidth":0,"rowPadding":17,"labelOffset":9,"labelExpr":"datum.value == 'WT' ? 'WT' : 'Scn2aᵗʳᵃᵖ'","labelFontStyle":{"expr":"datum.value == 'WT' ? 'normal' : 'italic'"}}}}},
        {"data":{"name":"lines"},"transform":[{"filter":"datum.p=='C'"}],"mark":{"type":"point","filled":true,"size":240,"opacity":1},
         "encoding":{"x":{"field":"t","type":"quantitative","title":"Zeitgeber time"},"y":{"field":"m","type":"quantitative","title":"Percent time"},
          "color":{"field":"g","type":"nominal","legend":{"orient":"none","legendX":169,"legendY":-62,"title":["*","*","*"],"titleLineHeight":20,"titleOrient":"left","titleAnchor":"middle","titleFontSize":40,"titleFontWeight":"bold","titlePadding":36,"labelFontSize":28,"labelFontWeight":"normal","symbolSize":200,"symbolStrokeWidth":0,"rowPadding":17,"labelOffset":9,"labelExpr":"datum.value == 'WT' ? 'WT' : 'Scn2aᵗʳᵃᵖ'","labelFontStyle":{"expr":"datum.value == 'WT' ? 'normal' : 'italic'"}}},
          "shape":{"field":"g","type":"nominal","scale":{"domain":["WT","Scn2a"],"range":["circle","square"]},"legend":{"orient":"none","legendX":169,"legendY":-62,"title":["*","*","*"],"titleLineHeight":20,"titleOrient":"left","titleAnchor":"middle","titleFontSize":40,"titleFontWeight":"bold","titlePadding":36,"labelFontSize":28,"labelFontWeight":"normal","symbolSize":200,"symbolStrokeWidth":0,"rowPadding":17,"labelOffset":9,"labelExpr":"datum.value == 'WT' ? 'WT' : 'Scn2aᵗʳᵃᵖ'","labelFontStyle":{"expr":"datum.value == 'WT' ? 'normal' : 'italic'"}}}}}
       ]}]}
    ]},
   {"title":{"text":"D","anchor":"start","frame":"bounds","fontSize":35,"fontWeight":"normal","dx":-43,"offset":7},
    "vconcat":[{
     "width":382,"height":254,
     "title":{"text":"REM","anchor":"start","frame":"group","fontSize":38,"fontWeight":"bold","dx":5,"offset":4},
     "layer":[
      {"data":{"name":"shadeLine"},"transform":[{"filter":"datum.p=='D'"}],"mark":{"type":"rect","color":"#d3d3d3"},
       "encoding":{"x":{"field":"x0","type":"quantitative","title":"Zeitgeber time","scale":{"domain":[0,24.5],"nice":false,"zero":false},"axis":{"values":[4,8,12,16,20,24],"labelFontSize":38,"titleFontSize":35,"labelPadding":2,"titlePadding":2,"tickSize":10}},"x2":{"field":"x1"},
        "y":{"field":"y0","type":"quantitative","title":"Percent time","scale":{"domain":[0,13],"nice":false,"zero":false},"axis":{"values":[0,3,6,9,12],"labelFontSize":38,"titleFontSize":33,"labelPadding":4,"titlePadding":12,"tickSize":10}},"y2":{"field":"y1"}}},
      {"data":{"name":"lines"},"transform":[{"filter":"datum.p=='D'"}],"mark":{"type":"line","strokeWidth":2},
       "encoding":{"x":{"field":"t","type":"quantitative","title":"Zeitgeber time"},"y":{"field":"m","type":"quantitative","title":"Percent time"},"color":{"field":"g","type":"nominal","scale":{"domain":["WT","Scn2a"],"range":["#000000","#ee1c1c"]},"legend":{"orient":"none","legendX":171,"legendY":-54,"title":"ns","titleOrient":"left","titleAnchor":"middle","titleFontSize":30,"titleFontWeight":"normal","titlePadding":28,"labelFontSize":28,"labelFontWeight":"normal","symbolSize":200,"symbolStrokeWidth":0,"rowPadding":17,"labelOffset":9,"labelExpr":"datum.value == 'WT' ? 'WT' : 'Scn2aᵗʳᵃᵖ'","labelFontStyle":{"expr":"datum.value == 'WT' ? 'normal' : 'italic'"}}}}},
      {"data":{"name":"lines"},"transform":[{"filter":"datum.p=='D'"}],"mark":{"type":"errorbar","ticks":{"size":14},"thickness":2},
       "encoding":{"x":{"field":"t","type":"quantitative","title":"Zeitgeber time"},"y":{"field":"m","type":"quantitative","title":"Percent time"},"yError":{"field":"s"},"color":{"field":"g","type":"nominal","legend":{"orient":"none","legendX":171,"legendY":-54,"title":"ns","titleOrient":"left","titleAnchor":"middle","titleFontSize":30,"titleFontWeight":"normal","titlePadding":28,"labelFontSize":28,"labelFontWeight":"normal","symbolSize":200,"symbolStrokeWidth":0,"rowPadding":17,"labelOffset":9,"labelExpr":"datum.value == 'WT' ? 'WT' : 'Scn2aᵗʳᵃᵖ'","labelFontStyle":{"expr":"datum.value == 'WT' ? 'normal' : 'italic'"}}}}},
      {"data":{"name":"lines"},"transform":[{"filter":"datum.p=='D'"}],"mark":{"type":"point","filled":true,"size":240,"opacity":1},
       "encoding":{"x":{"field":"t","type":"quantitative","title":"Zeitgeber time"},"y":{"field":"m","type":"quantitative","title":"Percent time"},
        "color":{"field":"g","type":"nominal","legend":{"orient":"none","legendX":171,"legendY":-54,"title":"ns","titleOrient":"left","titleAnchor":"middle","titleFontSize":30,"titleFontWeight":"normal","titlePadding":28,"labelFontSize":28,"labelFontWeight":"normal","symbolSize":200,"symbolStrokeWidth":0,"rowPadding":17,"labelOffset":9,"labelExpr":"datum.value == 'WT' ? 'WT' : 'Scn2aᵗʳᵃᵖ'","labelFontStyle":{"expr":"datum.value == 'WT' ? 'normal' : 'italic'"}}},
        "shape":{"field":"g","type":"nominal","scale":{"domain":["WT","Scn2a"],"range":["circle","square"]},"legend":{"orient":"none","legendX":171,"legendY":-54,"title":"ns","titleOrient":"left","titleAnchor":"middle","titleFontSize":30,"titleFontWeight":"normal","titlePadding":28,"labelFontSize":28,"labelFontWeight":"normal","symbolSize":200,"symbolStrokeWidth":0,"rowPadding":17,"labelOffset":9,"labelExpr":"datum.value == 'WT' ? 'WT' : 'Scn2aᵗʳᵃᵖ'","labelFontStyle":{"expr":"datum.value == 'WT' ? 'normal' : 'italic'"}}}}}
     ]}]}
  ]},
 {"resolve":{"scale":{"color":"independent","shape":"independent"}},
  "spacing":115,
  "hconcat":[
   {"title":{"text":"E","anchor":"start","frame":"bounds","fontSize":35,"fontWeight":"normal","dx":-75,"offset":2},
    "width":338,"height":218,
    "layer":[
     {"data":{"name":"shadeBar"},"transform":[{"filter":"datum.p=='E'"}],"mark":{"type":"bar","color":"#d3d3d3"},
      "encoding":{"x":{"field":"per","type":"nominal","scale":{"domain":["Light","Dark"],"paddingInner":0,"paddingOuter":0,"range":[9,338]},"axis":{"title":null,"labelAngle":0,"labelFontSize":30,"labelPadding":6,"tickSize":10}},
       "y":{"field":"top","type":"quantitative","scale":{"domain":[0,600],"nice":false},"axis":{"values":[0,150,300,450,600],"offset":-9,"title":"Time awake (min)","labelFontSize":26,"titleFontSize":27,"titlePadding":24,"labelPadding":3,"domainWidth":2.5}}}},
     {"data":{"name":"bars"},"transform":[{"filter":"datum.p=='E'"}],"mark":{"type":"bar"},
      "encoding":{"x":{"field":"per","type":"nominal"},"xOffset":{"field":"g","type":"nominal","scale":{"domain":["WT","Scn2a"],"paddingInner":0.32,"paddingOuter":0.44}},"y":{"field":"m","type":"quantitative"},"color":{"field":"g","type":"nominal","scale":{"domain":["WT","Scn2a"],"range":["#000000","#ff0000"]},"legend":null}}},
     {"data":{"name":"bars"},"transform":[{"filter":"datum.p=='E'"}],"mark":{"type":"rule","strokeWidth":2.5},
      "encoding":{"x":{"field":"per","type":"nominal"},"xOffset":{"field":"g","type":"nominal"},"y":{"field":"m","type":"quantitative"},"y2":{"field":"u"},"color":{"field":"g","type":"nominal","legend":null}}},
     {"data":{"name":"bars"},"transform":[{"filter":"datum.p=='E'"}],"mark":{"type":"tick","orient":"horizontal","size":14,"thickness":3},
      "encoding":{"x":{"field":"per","type":"nominal"},"xOffset":{"field":"g","type":"nominal"},"y":{"field":"u","type":"quantitative"},"color":{"field":"g","type":"nominal","legend":null}}},
     {"data":{"name":"sig"},"transform":[{"filter":"datum.p=='E'"}],"mark":{"type":"tick","orient":"horizontal","size":106,"thickness":3,"color":"#000000"},
      "encoding":{"x":{"field":"per","type":"nominal"},"y":{"field":"lv","type":"quantitative"}}},
     {"data":{"name":"sig"},"transform":[{"filter":"datum.p=='E'"}],"mark":{"type":"text","fontSize":36,"fontWeight":"bold","baseline":"alphabetic","dy":3,"color":"#000000"},
      "encoding":{"x":{"field":"per","type":"nominal"},"y":{"field":"lv","type":"quantitative"},"text":{"field":"st"}}}
    ]},
   {"title":{"text":"F","anchor":"start","frame":"bounds","fontSize":35,"fontWeight":"normal","dx":-43,"offset":2},
    "width":321,"height":218,
    "layer":[
     {"data":{"name":"shadeBar"},"transform":[{"filter":"datum.p=='F'"}],"mark":{"type":"bar","color":"#d3d3d3"},
      "encoding":{"x":{"field":"per","type":"nominal","scale":{"domain":["Light","Dark"],"paddingInner":0,"paddingOuter":0},"axis":{"title":null,"labelAngle":0,"labelFontSize":30,"labelPadding":6,"tickSize":10}},
       "y":{"field":"top","type":"quantitative","scale":{"domain":[0,400],"nice":false},"axis":{"values":[0,100,200,300,400],"title":"Time in NREM (min)","labelFontSize":26,"titleFontSize":27,"titlePadding":24,"labelPadding":3,"domainWidth":2.5}}}},
     {"data":{"name":"bars"},"transform":[{"filter":"datum.p=='F'"}],"mark":{"type":"bar"},
      "encoding":{"x":{"field":"per","type":"nominal"},"xOffset":{"field":"g","type":"nominal","scale":{"domain":["WT","Scn2a"],"paddingInner":0.32,"paddingOuter":0.44}},"y":{"field":"m","type":"quantitative"},"color":{"field":"g","type":"nominal","scale":{"domain":["WT","Scn2a"],"range":["#000000","#ff0000"]},"legend":null}}},
     {"data":{"name":"bars"},"transform":[{"filter":"datum.p=='F'"}],"mark":{"type":"rule","strokeWidth":2.5},
      "encoding":{"x":{"field":"per","type":"nominal"},"xOffset":{"field":"g","type":"nominal"},"y":{"field":"m","type":"quantitative"},"y2":{"field":"u"},"color":{"field":"g","type":"nominal","legend":null}}},
     {"data":{"name":"bars"},"transform":[{"filter":"datum.p=='F'"}],"mark":{"type":"tick","orient":"horizontal","size":14,"thickness":3},
      "encoding":{"x":{"field":"per","type":"nominal"},"xOffset":{"field":"g","type":"nominal"},"y":{"field":"u","type":"quantitative"},"color":{"field":"g","type":"nominal","legend":null}}},
     {"data":{"name":"sig"},"transform":[{"filter":"datum.p=='F'"}],"mark":{"type":"tick","orient":"horizontal","size":106,"thickness":3,"color":"#000000"},
      "encoding":{"x":{"field":"per","type":"nominal"},"y":{"field":"lv","type":"quantitative"}}},
     {"data":{"name":"sig"},"transform":[{"filter":"datum.p=='F'"}],"mark":{"type":"text","fontSize":36,"fontWeight":"bold","baseline":"alphabetic","dy":3,"color":"#000000"},
      "encoding":{"x":{"field":"per","type":"nominal"},"y":{"field":"lv","type":"quantitative"},"text":{"field":"st"}}}
    ]},
   {"title":{"text":"G","anchor":"start","frame":"bounds","fontSize":35,"fontWeight":"normal","dx":-74,"offset":2},
    "width":309,"height":218,
    "layer":[
     {"data":{"name":"shadeBar"},"transform":[{"filter":"datum.p=='G'"}],"mark":{"type":"bar","color":"#d3d3d3"},
      "encoding":{"x":{"field":"per","type":"nominal","scale":{"domain":["Light","Dark"],"paddingInner":0,"paddingOuter":0},"axis":{"title":null,"labelAngle":0,"labelFontSize":30,"labelPadding":6,"tickSize":10}},
       "y":{"field":"top","type":"quantitative","scale":{"domain":[0,100],"nice":false},"axis":{"values":[0,20,40,60,80,100],"title":"Time in REM (min)","labelFontSize":26,"titleFontSize":27,"titlePadding":24,"labelPadding":3,"domainWidth":2.5}}}},
     {"data":{"name":"bars"},"transform":[{"filter":"datum.p=='G'"}],"mark":{"type":"bar"},
      "encoding":{"x":{"field":"per","type":"nominal"},"xOffset":{"field":"g","type":"nominal","scale":{"domain":["WT","Scn2a"],"paddingInner":0.32,"paddingOuter":0.44}},"y":{"field":"m","type":"quantitative"},"color":{"field":"g","type":"nominal","scale":{"domain":["WT","Scn2a"],"range":["#000000","#ff0000"]},"legend":null}}},
     {"data":{"name":"bars"},"transform":[{"filter":"datum.p=='G'"}],"mark":{"type":"rule","strokeWidth":2.5},
      "encoding":{"x":{"field":"per","type":"nominal"},"xOffset":{"field":"g","type":"nominal"},"y":{"field":"m","type":"quantitative"},"y2":{"field":"u"},"color":{"field":"g","type":"nominal","legend":null}}},
     {"data":{"name":"bars"},"transform":[{"filter":"datum.p=='G'"}],"mark":{"type":"tick","orient":"horizontal","size":14,"thickness":3},
      "encoding":{"x":{"field":"per","type":"nominal"},"xOffset":{"field":"g","type":"nominal"},"y":{"field":"u","type":"quantitative"},"color":{"field":"g","type":"nominal","legend":null}}}
    ]}
  ]}
 ]},
 {"columns":1,"spacing":13,
  "resolve":{"scale":{"color":"independent","shape":"independent"}},
  "concat":[
 {"resolve":{"scale":{"color":"independent","shape":"independent"}},
  "spacing":130,
  "hconcat":[
   {"title":{"text":"H","anchor":"start","frame":"bounds","fontSize":35,"fontWeight":"normal","dx":-74,"offset":2},
    "width":335,"height":219,
    "layer":[
     {"data":{"name":"shadeBar"},"transform":[{"filter":"datum.p=='H'"}],"mark":{"type":"bar","color":"#d3d3d3"},
      "encoding":{"x":{"field":"per","type":"nominal","scale":{"domain":["Light","Dark"],"paddingInner":0,"paddingOuter":0,"range":[7,335]},"axis":{"title":null,"labelAngle":0,"labelFontSize":30,"labelPadding":6,"tickSize":10}},
       "y":{"field":"top","type":"quantitative","scale":{"domain":[0,125],"nice":false},"axis":{"values":[0,25,50,75,100,125],"offset":-7,"title":"No. of awake bouts","labelFontSize":26,"titleFontSize":27,"titlePadding":24,"labelPadding":3,"domainWidth":2.5}}}},
     {"data":{"name":"bars"},"transform":[{"filter":"datum.p=='H'"}],"mark":{"type":"bar"},
      "encoding":{"x":{"field":"per","type":"nominal"},"xOffset":{"field":"g","type":"nominal","scale":{"domain":["WT","Scn2a"],"paddingInner":0.32,"paddingOuter":0.44}},"y":{"field":"m","type":"quantitative"},"color":{"field":"g","type":"nominal","scale":{"domain":["WT","Scn2a"],"range":["#000000","#ff0000"]},"legend":null}}},
     {"data":{"name":"bars"},"transform":[{"filter":"datum.p=='H'"}],"mark":{"type":"rule","strokeWidth":2.5},
      "encoding":{"x":{"field":"per","type":"nominal"},"xOffset":{"field":"g","type":"nominal"},"y":{"field":"m","type":"quantitative"},"y2":{"field":"u"},"color":{"field":"g","type":"nominal","legend":null}}},
     {"data":{"name":"bars"},"transform":[{"filter":"datum.p=='H'"}],"mark":{"type":"tick","orient":"horizontal","size":14,"thickness":3},
      "encoding":{"x":{"field":"per","type":"nominal"},"xOffset":{"field":"g","type":"nominal"},"y":{"field":"u","type":"quantitative"},"color":{"field":"g","type":"nominal","legend":null}}},
     {"data":{"name":"sig"},"transform":[{"filter":"datum.p=='H'"}],"mark":{"type":"tick","orient":"horizontal","size":106,"thickness":3,"color":"#000000"},
      "encoding":{"x":{"field":"per","type":"nominal"},"y":{"field":"lv","type":"quantitative"}}},
     {"data":{"name":"sig"},"transform":[{"filter":"datum.p=='H'"}],"mark":{"type":"text","fontSize":36,"fontWeight":"bold","baseline":"alphabetic","dy":3,"color":"#000000"},
      "encoding":{"x":{"field":"per","type":"nominal"},"y":{"field":"lv","type":"quantitative"},"text":{"field":"st"}}}
    ]},
   {"title":{"text":"I","anchor":"start","frame":"bounds","fontSize":35,"fontWeight":"normal","dx":-33,"offset":2},
    "width":317,"height":219,
    "layer":[
     {"data":{"name":"shadeBar"},"transform":[{"filter":"datum.p=='I'"}],"mark":{"type":"bar","color":"#d3d3d3"},
      "encoding":{"x":{"field":"per","type":"nominal","scale":{"domain":["Light","Dark"],"paddingInner":0,"paddingOuter":0},"axis":{"title":null,"labelAngle":0,"labelFontSize":30,"labelPadding":6,"tickSize":10}},
       "y":{"field":"top","type":"quantitative","scale":{"domain":[0,125],"nice":false},"axis":{"values":[0,25,50,75,100,125],"title":"No. of NREM bouts","labelFontSize":26,"titleFontSize":27,"titlePadding":24,"labelPadding":3,"domainWidth":2.5}}}},
     {"data":{"name":"bars"},"transform":[{"filter":"datum.p=='I'"}],"mark":{"type":"bar"},
      "encoding":{"x":{"field":"per","type":"nominal"},"xOffset":{"field":"g","type":"nominal","scale":{"domain":["WT","Scn2a"],"paddingInner":0.32,"paddingOuter":0.44}},"y":{"field":"m","type":"quantitative"},"color":{"field":"g","type":"nominal","scale":{"domain":["WT","Scn2a"],"range":["#000000","#ff0000"]},"legend":null}}},
     {"data":{"name":"bars"},"transform":[{"filter":"datum.p=='I'"}],"mark":{"type":"rule","strokeWidth":2.5},
      "encoding":{"x":{"field":"per","type":"nominal"},"xOffset":{"field":"g","type":"nominal"},"y":{"field":"m","type":"quantitative"},"y2":{"field":"u"},"color":{"field":"g","type":"nominal","legend":null}}},
     {"data":{"name":"bars"},"transform":[{"filter":"datum.p=='I'"}],"mark":{"type":"tick","orient":"horizontal","size":14,"thickness":3},
      "encoding":{"x":{"field":"per","type":"nominal"},"xOffset":{"field":"g","type":"nominal"},"y":{"field":"u","type":"quantitative"},"color":{"field":"g","type":"nominal","legend":null}}},
     {"data":{"name":"sig"},"transform":[{"filter":"datum.p=='I'"}],"mark":{"type":"tick","orient":"horizontal","size":106,"thickness":3,"color":"#000000"},
      "encoding":{"x":{"field":"per","type":"nominal"},"y":{"field":"lv","type":"quantitative"}}},
     {"data":{"name":"sig"},"transform":[{"filter":"datum.p=='I'"}],"mark":{"type":"text","fontSize":36,"fontWeight":"bold","baseline":"alphabetic","dy":3,"color":"#000000"},
      "encoding":{"x":{"field":"per","type":"nominal"},"y":{"field":"lv","type":"quantitative"},"text":{"field":"st"}}}
    ]},
   {"title":{"text":"J","anchor":"start","frame":"bounds","fontSize":35,"fontWeight":"normal","dx":-73,"offset":2},
    "width":311,"height":220,
    "layer":[
     {"data":{"name":"shadeBar"},"transform":[{"filter":"datum.p=='J'"}],"mark":{"type":"bar","color":"#d3d3d3"},
      "encoding":{"x":{"field":"per","type":"nominal","scale":{"domain":["Light","Dark"],"paddingInner":0,"paddingOuter":0},"axis":{"title":null,"labelAngle":0,"labelFontSize":30,"labelPadding":6,"tickSize":10}},
       "y":{"field":"top","type":"quantitative","scale":{"domain":[0,50],"nice":false},"axis":{"values":[0,10,20,30,40,50],"title":"No. of REM bouts","labelFontSize":26,"titleFontSize":27,"titlePadding":24,"labelPadding":3,"domainWidth":2.5}}}},
     {"data":{"name":"bars"},"transform":[{"filter":"datum.p=='J'"}],"mark":{"type":"bar"},
      "encoding":{"x":{"field":"per","type":"nominal"},"xOffset":{"field":"g","type":"nominal","scale":{"domain":["WT","Scn2a"],"paddingInner":0.32,"paddingOuter":0.44}},"y":{"field":"m","type":"quantitative"},"color":{"field":"g","type":"nominal","scale":{"domain":["WT","Scn2a"],"range":["#000000","#ff0000"]},"legend":null}}},
     {"data":{"name":"bars"},"transform":[{"filter":"datum.p=='J'"}],"mark":{"type":"rule","strokeWidth":2.5},
      "encoding":{"x":{"field":"per","type":"nominal"},"xOffset":{"field":"g","type":"nominal"},"y":{"field":"m","type":"quantitative"},"y2":{"field":"u"},"color":{"field":"g","type":"nominal","legend":null}}},
     {"data":{"name":"bars"},"transform":[{"filter":"datum.p=='J'"}],"mark":{"type":"tick","orient":"horizontal","size":14,"thickness":3},
      "encoding":{"x":{"field":"per","type":"nominal"},"xOffset":{"field":"g","type":"nominal"},"y":{"field":"u","type":"quantitative"},"color":{"field":"g","type":"nominal","legend":null}}},
     {"data":{"name":"sig"},"transform":[{"filter":"datum.p=='J'"}],"mark":{"type":"tick","orient":"horizontal","size":106,"thickness":3,"color":"#000000"},
      "encoding":{"x":{"field":"per","type":"nominal"},"y":{"field":"lv","type":"quantitative"}}},
     {"data":{"name":"sig"},"transform":[{"filter":"datum.p=='J'"}],"mark":{"type":"text","fontSize":36,"fontWeight":"bold","baseline":"alphabetic","dy":3,"color":"#000000"},
      "encoding":{"x":{"field":"per","type":"nominal"},"y":{"field":"lv","type":"quantitative"},"text":{"field":"st"}}}
    ]}
  ]},
 {"resolve":{"scale":{"color":"independent","shape":"independent"}},
  "spacing":118,
  "hconcat":[
   {"resolve":{"scale":{"color":"independent","shape":"independent"}},
    "spacing":120,
    "hconcat":[
     {"title":{"text":"K","anchor":"start","frame":"bounds","fontSize":35,"fontWeight":"normal","dx":-62,"offset":2},
      "width":325,"height":219,
      "layer":[
       {"data":{"name":"shadeBar"},"transform":[{"filter":"datum.p=='K'"}],"mark":{"type":"bar","color":"#d3d3d3"},
        "encoding":{"x":{"field":"per","type":"nominal","scale":{"domain":["Light","Dark"],"paddingInner":0,"paddingOuter":0,"range":[13,325]},"axis":{"title":null,"labelAngle":0,"labelFontSize":30,"labelPadding":6,"tickSize":10}},
         "y":{"field":"top","type":"quantitative","scale":{"domain":[0,1000],"nice":false,"range":[219,16]},"axis":{"values":[0,200,400,600,800,1000],"offset":-13,"format":"d","title":"Awake bout duration (sec)","titleY":102,"labelFontSize":26,"titleFontSize":27,"titlePadding":24,"labelPadding":3,"domainWidth":2.5}}}},
       {"data":{"name":"bars"},"transform":[{"filter":"datum.p=='K'"}],"mark":{"type":"bar"},
        "encoding":{"x":{"field":"per","type":"nominal"},"xOffset":{"field":"g","type":"nominal","scale":{"domain":["WT","Scn2a"],"paddingInner":0.32,"paddingOuter":0.44}},"y":{"field":"m","type":"quantitative"},"color":{"field":"g","type":"nominal","scale":{"domain":["WT","Scn2a"],"range":["#000000","#ff0000"]},"legend":null}}},
       {"data":{"name":"bars"},"transform":[{"filter":"datum.p=='K'"}],"mark":{"type":"rule","strokeWidth":2.5},
        "encoding":{"x":{"field":"per","type":"nominal"},"xOffset":{"field":"g","type":"nominal"},"y":{"field":"m","type":"quantitative"},"y2":{"field":"u"},"color":{"field":"g","type":"nominal","legend":null}}},
       {"data":{"name":"bars"},"transform":[{"filter":"datum.p=='K'"}],"mark":{"type":"tick","orient":"horizontal","size":14,"thickness":3},
        "encoding":{"x":{"field":"per","type":"nominal"},"xOffset":{"field":"g","type":"nominal"},"y":{"field":"u","type":"quantitative"},"color":{"field":"g","type":"nominal","legend":null}}},
       {"data":{"name":"sig"},"transform":[{"filter":"datum.p=='K'"}],"mark":{"type":"tick","orient":"horizontal","size":106,"thickness":3,"color":"#000000"},
        "encoding":{"x":{"field":"per","type":"nominal"},"y":{"field":"lv","type":"quantitative"}}},
       {"data":{"name":"sig"},"transform":[{"filter":"datum.p=='K'"}],"mark":{"type":"text","fontSize":36,"fontWeight":"bold","baseline":"alphabetic","dy":3,"color":"#000000"},
        "encoding":{"x":{"field":"per","type":"nominal"},"y":{"field":"lv","type":"quantitative"},"text":{"field":"st"}}}
      ]},
     {"title":{"text":"L","anchor":"start","frame":"bounds","fontSize":35,"fontWeight":"normal","dx":-40,"offset":2},
      "width":326,"height":219,
      "layer":[
       {"data":{"name":"shadeBar"},"transform":[{"filter":"datum.p=='L'"}],"mark":{"type":"bar","color":"#d3d3d3"},
        "encoding":{"x":{"field":"per","type":"nominal","scale":{"domain":["Light","Dark"],"paddingInner":0,"paddingOuter":0},"axis":{"title":null,"labelAngle":0,"labelFontSize":30,"labelPadding":6,"tickSize":10}},
         "y":{"field":"top","type":"quantitative","scale":{"domain":[0,400],"nice":false},"axis":{"values":[0,100,200,300,400],"title":"NREM bout duration (sec)","labelFontSize":26,"titleFontSize":27,"titlePadding":24,"labelPadding":3,"domainWidth":2.5}}}},
       {"data":{"name":"bars"},"transform":[{"filter":"datum.p=='L'"}],"mark":{"type":"bar"},
        "encoding":{"x":{"field":"per","type":"nominal"},"xOffset":{"field":"g","type":"nominal","scale":{"domain":["WT","Scn2a"],"paddingInner":0.32,"paddingOuter":0.44}},"y":{"field":"m","type":"quantitative"},"color":{"field":"g","type":"nominal","scale":{"domain":["WT","Scn2a"],"range":["#000000","#ff0000"]},"legend":null}}},
       {"data":{"name":"bars"},"transform":[{"filter":"datum.p=='L'"}],"mark":{"type":"rule","strokeWidth":2.5},
        "encoding":{"x":{"field":"per","type":"nominal"},"xOffset":{"field":"g","type":"nominal"},"y":{"field":"m","type":"quantitative"},"y2":{"field":"u"},"color":{"field":"g","type":"nominal","legend":null}}},
       {"data":{"name":"bars"},"transform":[{"filter":"datum.p=='L'"}],"mark":{"type":"tick","orient":"horizontal","size":14,"thickness":3},
        "encoding":{"x":{"field":"per","type":"nominal"},"xOffset":{"field":"g","type":"nominal"},"y":{"field":"u","type":"quantitative"},"color":{"field":"g","type":"nominal","legend":null}}},
       {"data":{"name":"sig"},"transform":[{"filter":"datum.p=='L'"}],"mark":{"type":"tick","orient":"horizontal","size":106,"thickness":3,"color":"#000000"},
        "encoding":{"x":{"field":"per","type":"nominal"},"y":{"field":"lv","type":"quantitative"}}},
       {"data":{"name":"sig"},"transform":[{"filter":"datum.p=='L'"}],"mark":{"type":"text","fontSize":36,"fontWeight":"bold","baseline":"alphabetic","dy":3,"color":"#000000"},
        "encoding":{"x":{"field":"per","type":"nominal"},"y":{"field":"lv","type":"quantitative"},"text":{"field":"st"}}}
      ]}
    ]},
   {"title":{"text":"M","anchor":"start","frame":"bounds","fontSize":35,"fontWeight":"normal","dx":-57,"offset":2},
    "width":302,"height":219,
    "layer":[
     {"data":{"name":"shadeBar"},"transform":[{"filter":"datum.p=='M'"}],"mark":{"type":"bar","color":"#d3d3d3"},
      "encoding":{"x":{"field":"per","type":"nominal","scale":{"domain":["Light","Dark"],"paddingInner":0,"paddingOuter":0},"axis":{"title":null,"labelAngle":0,"labelFontSize":30,"labelPadding":6,"tickSize":10}},
       "y":{"field":"top","type":"quantitative","scale":{"domain":[0,100],"nice":false,"range":[219,4]},"axis":{"values":[0,20,40,60,80,100],"title":"REM bout duration (sec)","labelFontSize":26,"titleFontSize":27,"titlePadding":24,"labelPadding":3,"domainWidth":2.5}}}},
     {"data":{"name":"bars"},"transform":[{"filter":"datum.p=='M'"}],"mark":{"type":"bar"},
      "encoding":{"x":{"field":"per","type":"nominal"},"xOffset":{"field":"g","type":"nominal","scale":{"domain":["WT","Scn2a"],"paddingInner":0.32,"paddingOuter":0.44}},"y":{"field":"m","type":"quantitative"},"color":{"field":"g","type":"nominal","scale":{"domain":["WT","Scn2a"],"range":["#000000","#ff0000"]},"legend":null}}},
     {"data":{"name":"bars"},"transform":[{"filter":"datum.p=='M'"}],"mark":{"type":"rule","strokeWidth":2.5},
      "encoding":{"x":{"field":"per","type":"nominal"},"xOffset":{"field":"g","type":"nominal"},"y":{"field":"m","type":"quantitative"},"y2":{"field":"u"},"color":{"field":"g","type":"nominal","legend":null}}},
     {"data":{"name":"bars"},"transform":[{"filter":"datum.p=='M'"}],"mark":{"type":"tick","orient":"horizontal","size":14,"thickness":3},
      "encoding":{"x":{"field":"per","type":"nominal"},"xOffset":{"field":"g","type":"nominal"},"y":{"field":"u","type":"quantitative"},"color":{"field":"g","type":"nominal","legend":null}}}
    ]}
  ]}
 ]}
]
}
